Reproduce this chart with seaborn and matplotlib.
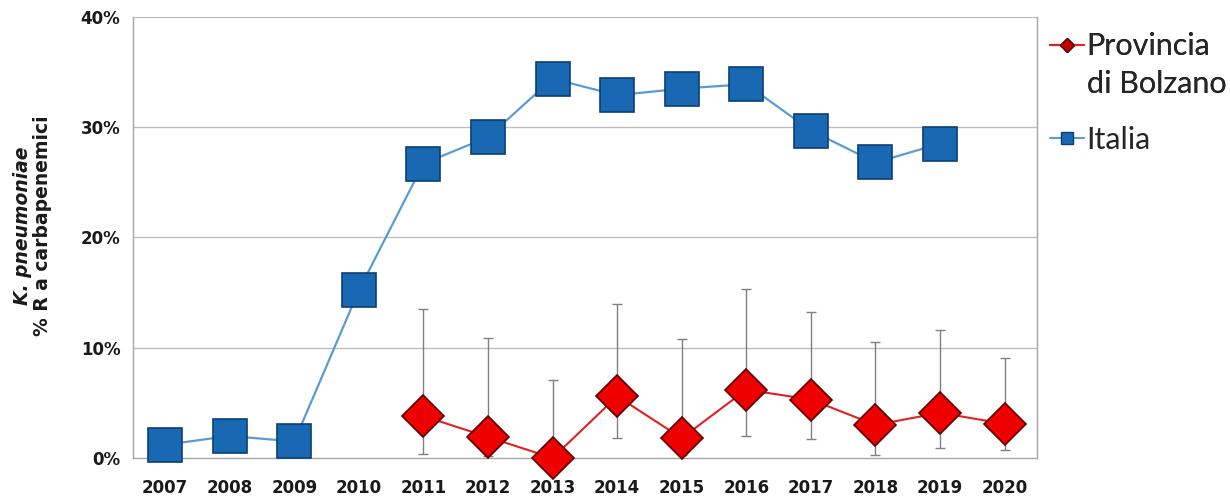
import numpy as np
import pandas as pd
import matplotlib
matplotlib.use("Agg")
import matplotlib.pyplot as plt
import seaborn as sns
from matplotlib.ticker import FixedLocator, PercentFormatter
from matplotlib.lines import Line2D

years = ["2007", "2008", "2009", "2010", "2011", "2012", "2013",
         "2014", "2015", "2016", "2017", "2018", "2019", "2020"]

# Italia: % resistant (2020 not available)
italia = [1.2, 2.0, 1.5, 15.2, 26.7, 29.1, 34.4, 32.9, 33.5, 33.9, 29.7, 26.8, 28.5, np.nan]

# Provincia di Bolzano: % resistant with 95% CI (from 2011)
bolzano = [np.nan, np.nan, np.nan, np.nan, 3.8, 1.9, 0.0, 5.6, 1.8, 6.2, 5.3, 3.0, 4.1, 3.1]
bolz_lo = [np.nan, np.nan, np.nan, np.nan, 0.4, 0.2, 0.0, 1.8, 0.3, 2.0, 1.7, 0.3, 0.9, 0.7]
bolz_hi = [np.nan, np.nan, np.nan, np.nan, 13.5, 10.9, 7.1, 14.0, 10.8, 15.3, 13.2, 10.5, 11.6, 9.1]

df = pd.DataFrame({
    "pos": np.arange(len(years)),
    "year": years,
    "Italia": italia,
    "Bolzano": bolzano,
    "lo": bolz_lo,
    "hi": bolz_hi,
})

sns.set_style("white")
plt.rcParams["font.family"] = ["DejaVu Sans"]

fig = plt.figure(figsize=(12.3, 4.98), dpi=100)
ax = fig.add_axes([0.108, 0.0803, 0.735, 0.8857])

grid_c = "#bdbdbd"
for v in [10, 20, 30, 40]:
    ax.axhline(v, color=grid_c, lw=1.0, zorder=0)

# Italia series
ita = df.dropna(subset=["Italia"])
sns.lineplot(data=ita, x="pos", y="Italia", ax=ax, color="#5b9bd5", lw=1.6,
             marker="s", markersize=24, markerfacecolor="#1868b4",
             markeredgecolor="#0c3f73", markeredgewidth=1.2, clip_on=False,
             zorder=3, legend=False)

# Bolzano series with confidence intervals
bz = df.dropna(subset=["Bolzano"])
ax.errorbar(bz["pos"], bz["Bolzano"],
            yerr=[bz["Bolzano"] - bz["lo"], bz["hi"] - bz["Bolzano"]],
            fmt="none", ecolor="#808080", elinewidth=1.0, capsize=3.5,
            capthick=1.0, zorder=2, clip_on=False)
sns.lineplot(data=bz, x="pos", y="Bolzano", ax=ax, color="#e32020", lw=1.5,
             marker="D", markersize=21, markerfacecolor="#ee0000",
             markeredgecolor="#5c0000", markeredgewidth=1.2, clip_on=False,
             zorder=4, legend=False)

ax.set_xlim(-0.5, len(years) - 0.5)
ax.set_ylim(0, 40)
ax.yaxis.set_major_locator(FixedLocator([0, 10, 20, 30, 40]))
ax.yaxis.set_major_formatter(PercentFormatter(decimals=0))
ax.set_xticks(np.arange(len(years)))
ax.set_xticklabels(years)
ax.set_xticks(np.arange(len(years) + 1) - 0.5, minor=True)
ax.tick_params(axis="x", which="major", length=0, pad=15,
               labelsize=12, labelcolor="#1a1a1a")
ax.tick_params(axis="x", which="minor", length=5, color="#bdbdbd", width=1)
ax.tick_params(axis="y", which="major", length=5, color="#bdbdbd", width=1,
               labelsize=12, labelcolor="#1a1a1a", pad=4)
for lab in ax.get_xticklabels() + ax.get_yticklabels():
    lab.set_fontweight("bold")

ax.set_xlabel("")
ax.set_ylabel("")
for side in ["left", "right", "bottom"]:
    ax.spines[side].set_color("#a6a6a6")
    ax.spines[side].set_linewidth(1.0)
ax.spines["top"].set_visible(False)

# Axis title in two lines
fig.text(23 / 1230, 0.546, "K. pneumoniae", rotation=90, ha="center", va="center",
         fontsize=13.5, fontweight="bold", fontstyle="italic", color="#1a1a1a")
fig.text(43 / 1230, 0.546, "% R a carbapenemici", rotation=90, ha="center",
         va="center", fontsize=13.5, fontweight="bold", color="#1a1a1a")

# Legend: marker sits beside the first line of the two-line label
leg_kw = dict(frameon=False, handlelength=1.1, handletextpad=0.1,
              borderpad=0, borderaxespad=0,
              prop={"family": "Lato", "size": 22})
h_bz = Line2D([], [], color="#e32020", lw=1.5, marker="D", markersize=7,
              markerfacecolor="#c00000", markeredgecolor="#5c0000")
h_blank = Line2D([], [], lw=0, alpha=0)
h_it = Line2D([], [], color="#5b9bd5", lw=1.5, marker="s", markersize=9,
              markerfacecolor="#1868b4", markeredgecolor="#0c3f73")
leg1 = fig.legend([h_bz, h_blank], ["Provincia", "di Bolzano"],
                  loc="center left", bbox_to_anchor=(1050 / 1230, 1 - 65 / 498),
                  labelspacing=0.3, **leg_kw)
fig.add_artist(leg1)
fig.legend([h_it], ["Italia"], loc="center left",
           bbox_to_anchor=(1050 / 1230, 1 - 140 / 498), **leg_kw)

fig.savefig("out.png", dpi=100)
